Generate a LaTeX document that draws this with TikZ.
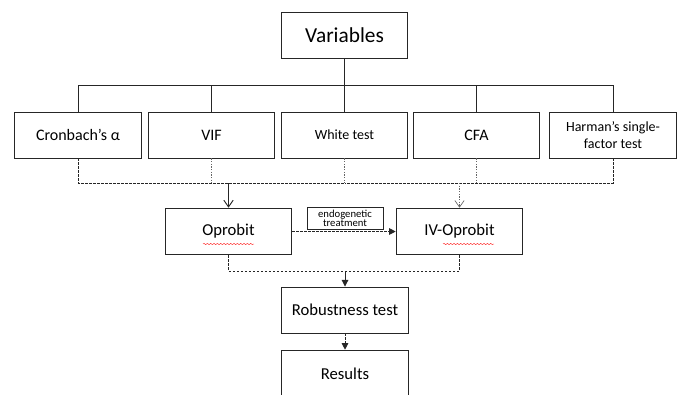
\documentclass[tikz,border=0pt]{standalone}
\usepackage{fontspec}
\setmainfont{Carlito}
\usetikzlibrary{arrows.meta,decorations.pathmorphing}
\begin{document}
\begin{tikzpicture}[x=0.75pt,y=-0.75pt,
  box/.style={draw=black!85,line width=0.7pt,rectangle,inner sep=0pt,align=center,
    minimum width=95pt,minimum height=34.5pt},
  smallbox/.style={draw=black!85,line width=0.7pt,rectangle,inner sep=0pt,align=center,
    minimum width=57pt,minimum height=16.5pt,font=\fontsize{8}{7}\selectfont},
  conn/.style={draw=black!85,line width=0.7pt},
  dconn/.style={draw=black!85,line width=0.7pt,dash pattern=on 2pt off 1pt},
  fconn/.style={draw=black!60,line width=0.5pt,dash pattern=on 1pt off 1pt},
  openhead/.style={-{Straight Barb[length=5pt,width=7pt]}},
  fillhead/.style={-{Triangle[length=5pt,width=5pt]}},
  wavy/.style={draw=red!80,line width=0.35pt,decorate,decoration={snake,amplitude=0.5pt,segment length=2.5pt}}
]
\useasboundingbox (0,0) rectangle (680,394);
% top
\node[box,minimum height=34.5pt,font=\fontsize{16}{18}\selectfont] (var) at (344.5,35) {Variables};
% row
\node[box,font=\fontsize{12}{14}\selectfont] (c1) at (78,135) {Cronbach’s α};
\node[box,font=\fontsize{12}{14}\selectfont] (c2) at (211.5,135) {VIF};
\node[box,font=\fontsize{10.5}{12}\selectfont] (c3) at (344.5,135) {White test};
\node[box,font=\fontsize{12}{14}\selectfont] (c4) at (476.5,135) {CFA};
\node[box,font=\fontsize{10.5}{13}\selectfont] (c5) at (613,135) {Harman’s single-\\factor test};
% middle
\node[box,minimum height=35pt,font=\fontsize{12.5}{14}\selectfont] (op) at (228.5,231.5) {Oprobit};
\node[box,minimum height=35pt,font=\fontsize{12.5}{14}\selectfont] (iv) at (459.5,231.5) {IV-Oprobit};
\node[smallbox] (endo) at (345,218) {endogenetic\\treatment};
% lower
\node[box,font=\fontsize{12.5}{14}\selectfont] (rob) at (345,310) {Robustness test};
\node[box,minimum height=35pt,font=\fontsize{12.5}{14}\selectfont] (res) at (345,373.5) {Results};
% coordinates
\coordinate (hub) at (344.5,85);
\coordinate (dh) at (344.5,183);
\coordinate (lh) at (345,271);
% top connectors
\draw[conn] (var.south) -- (hub);
\draw[conn] (c1.north) |- (hub);
\draw[conn] (c2.north) |- (hub);
\draw[conn] (c3.north) -- (hub);
\draw[conn] (c4.north) |- (hub);
\draw[conn] (c5.north) |- (hub);
% dashed collector
\draw[dconn] (c1.south) |- (dh);
\draw[dconn] (c5.south) |- (dh);
\draw[fconn] (c2.south) -- (c2.south |- dh);
\draw[fconn] (c3.south) -- (c3.south |- dh);
\draw[fconn] (c4.south) -- (c4.south |- dh);
\draw[conn,openhead] (op.north |- dh) -- (op.north);
\draw[fconn,openhead] (iv.north |- dh) -- (iv.north);
% endogenetic arrow
\draw[dconn,fillhead] (op.east) -- (iv.west);
% lower collector
\draw[dconn] (op.south) |- (lh);
\draw[dconn] (iv.south) |- (lh);
\draw[conn,fillhead] (lh) -- (rob.north);
\draw[dconn,fillhead] (rob.south) -- (res.north);
% spell-check underlines
\draw[wavy] (203,244) -- (254,244);
\draw[wavy] (443,244) -- (494,244);
\end{tikzpicture}
\end{document}
